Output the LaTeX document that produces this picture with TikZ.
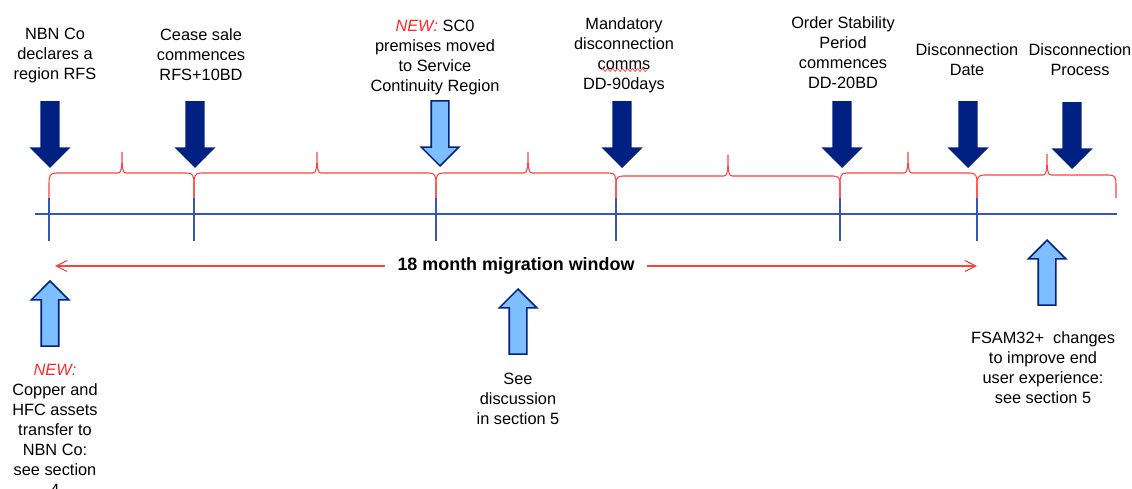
\documentclass[tikz,border=0pt]{standalone}
\usepackage{fontspec}
\setmainfont{Liberation Sans}
\usetikzlibrary{shapes.arrows, arrows.meta, decorations.pathmorphing}
\definecolor{darkarrow}{RGB}{0,33,130}
\definecolor{lightarrow}{RGB}{125,190,255}
\definecolor{bracered}{RGB}{255,64,64}
\definecolor{lineblue}{RGB}{55,85,185}
\definecolor{newred}{RGB}{255,40,40}

\begin{document}
\begin{tikzpicture}[
        x = 0.02cm, y = -0.02cm,
        txt/.style = {anchor = north, align = center, inner sep = 0mm, font = \fontsize{9.3}{11.4}\selectfont},
        bigarr/.style = {single arrow, draw = darkarrow, line width = 0.9pt, inner sep = 0mm, inner ysep = 1.6mm,
                single arrow head extend = 2mm, single arrow tip angle = 90, single arrow head indent = 0mm,
                minimum height = 13mm, anchor = tip},
        downarr/.style = {bigarr, fill = darkarrow, rotate = -90},
        newarr/.style = {bigarr, fill = lightarrow, rotate = -90},
        uparr/.style = {bigarr, fill = lightarrow, rotate = 90},
        brc/.style = {draw, bracered, line width = 0.6pt},
        tick/.style = {draw, lineblue, line width = 0.6pt},
        win/.style = {draw, bracered, line width = 0.6pt, -{Straight Barb[length = 2.2mm, width = 2.2mm]}},
    ]
    \clip (0, 0) rectangle (1132, 489);

    % timeline
    \coordinate (tlStart) at (35, 214);
    \coordinate (tlEnd) at (1117, 214);
    \path[tick] (tlStart) -- (tlEnd);
    \foreach \x in {49, 194, 436, 616, 840, 977}
        \path[tick] (\x, 198) -- (\x, 241);

    % braces between the milestones
    \foreach \a/\m/\b/\h in {49/122/194/173, 194/317/436/173, 436/528/616/173,
                             616/728/840/176, 840/908/977/173, 977/1047/1116/175}
        \path[brc] (\a, 198) -- (\a, 184) .. controls (\a, \h + 3) and (\a + 1, \h) .. (\a + 7, \h)
            -- (\m - 4, \h) .. controls (\m - 1, \h) and (\m, \h - 3) .. (\m, \h - 21)
            .. controls (\m, \h - 3) and (\m + 1, \h) .. (\m + 4, \h)
            -- (\b - 7, \h) .. controls (\b - 1, \h) and (\b, \h + 3) .. (\b, 184) -- (\b, 198);

    % milestones above
    \node (rfsArr) at (50, 168) [downarr] {};
    \node (ceaseArr) at (195, 168) [downarr] {};
    \node (scArr) at (440, 167) [newarr] {};
    \node (commsArr) at (622, 168) [downarr] {};
    \node (ospArr) at (842, 168) [downarr] {};
    \node (ddArr) at (968, 168) [downarr] {};
    \node (procArr) at (1072, 169) [downarr] {};

    \node (rfs) at (55, 28) [txt] {NBN Co\\declares a\\region RFS};
    \node (cease) at (201, 28) [txt] {Cease sale\\commences\\RFS+10BD};
    \node (sc0) at (435, 20) [txt] {\textcolor{newred}{\textit{NEW:}} SC0\\premises moved\\to Service\\Continuity Region};
    \node (comms) at (624, 17) [txt] {Mandatory\\disconnection\\comms\\DD-90days};
    \node (osp) at (843, 16) [txt] {Order Stability\\Period\\commences\\DD-20BD};
    \node (ddate) at (967, 43) [txt] {Disconnection\\Date};
    \node (dproc) at (1080, 43) [txt] {Disconnection\\Process};
    \draw[bracered, line width = 0.4pt, decorate, decoration = {snake, amplitude = 0.3mm, segment length = 1mm}]
        (601, 70) -- (648, 70);

    % migration window
    \coordinate (winL) at (55, 266);
    \coordinate (winR) at (977, 266);
    \node (window) at (516, 266) [inner xsep = 2.4mm, font = \fontsize{10.2}{12}\selectfont\bfseries] {18 month migration window};
    \path[win] (window) -- (winL);
    \path[win] (window) -- (winR);

    % notes below
    \node (assetArr) at (50, 280) [uparr] {};
    \node (discArr) at (518, 288) [uparr] {};
    \node (fsamArr) at (1047, 239) [uparr] {};

    \node (assets) at (55, 364) [txt] {\textcolor{newred}{\textit{NEW:}}\\Copper and\\HFC assets\\transfer to\\NBN Co:\\see section\\4};
    \node (discuss) at (518, 373) [txt] {See\\discussion\\in section 5};
    \node (fsam) at (1043, 331) [txt] {FSAM32+\ \ changes\\to improve end\\user experience:\\see section 5};
\end{tikzpicture}
\end{document}
